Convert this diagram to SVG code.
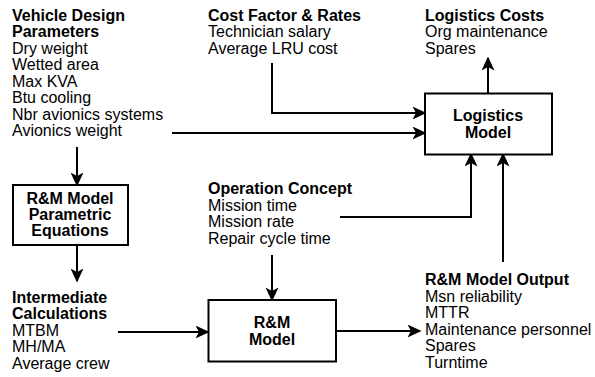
<svg xmlns="http://www.w3.org/2000/svg" width="595" height="377" viewBox="0 0 595 377">
<style>
text{font-family:"Liberation Sans",Arial,Helvetica,sans-serif;font-size:16px;fill:#000}
.b{font-weight:bold}
.c{text-anchor:middle}
.box{fill:#fff;stroke:#000;stroke-width:2}
.ln{fill:none;stroke:#000;stroke-width:2;marker-end:url(#ah)}
</style>
<defs>
<marker id="ah" viewBox="0 0 14 13" markerWidth="14" markerHeight="13" refX="12.5" refY="6.5" orient="auto" markerUnits="userSpaceOnUse">
<path d="M0,0 L14,6.5 L0,13 L3.5,6.5 z" fill="#000"/>
</marker>
</defs>
<rect width="595" height="377" fill="#fff"/>
<g id="connectors">
<path class="ln" d="M77,147 V185"/>
<path class="ln" d="M77,245 V281"/>
<path class="ln" d="M118,332 H208"/>
<path class="ln" d="M272,255 V300"/>
<path class="ln" d="M336,331 H420"/>
<path class="ln" d="M503,262 V154"/>
<path class="ln" d="M340,217 H471 V154"/>
<path class="ln" d="M272,63 V113 H425"/>
<path class="ln" d="M172,133 H425"/>
<path class="ln" d="M488,93 V58"/>
</g>
<g id="vehicle-design-parameters">
<text x="12" y="20.5" class="b">Vehicle Design</text>
<text x="12" y="37" class="b">Parameters</text>
<text x="12" y="53.5">Dry weight</text>
<text x="12" y="70">Wetted area</text>
<text x="12" y="86.5">Max KVA</text>
<text x="12" y="103">Btu cooling</text>
<text x="12" y="119.5">Nbr avionics systems</text>
<text x="12" y="136">Avionics weight</text>
</g>
<g id="cost-factor-rates">
<text x="208" y="20.5" class="b">Cost Factor &amp; Rates</text>
<text x="208" y="37">Technician salary</text>
<text x="208" y="53.5">Average LRU cost</text>
</g>
<g id="logistics-costs">
<text x="425" y="20.5" class="b">Logistics Costs</text>
<text x="425" y="37">Org maintenance</text>
<text x="425" y="53.5">Spares</text>
</g>
<g id="logistics-model">
<rect class="box" x="425" y="93.5" width="127" height="61"/>
<text x="488" y="121" class="b c">Logistics</text>
<text x="488" y="137.5" class="b c">Model</text>
</g>
<g id="rm-parametric-equations">
<rect class="box" x="13" y="185" width="115" height="60"/>
<text x="70" y="204" class="b c">R&amp;M Model</text>
<text x="70" y="220" class="b c">Parametric</text>
<text x="70" y="236" class="b c">Equations</text>
</g>
<g id="operation-concept">
<text x="208" y="194" class="b">Operation Concept</text>
<text x="208" y="210.5">Mission time</text>
<text x="208" y="227">Mission rate</text>
<text x="208" y="243.5">Repair cycle time</text>
</g>
<g id="intermediate-calculations">
<text x="12" y="302.5" class="b">Intermediate</text>
<text x="12" y="319" class="b">Calculations</text>
<text x="12" y="335.5">MTBM</text>
<text x="12" y="352">MH/MA</text>
<text x="12" y="368.5">Average crew</text>
</g>
<g id="rm-model">
<rect class="box" x="208.5" y="300" width="127.5" height="61.5"/>
<text x="272" y="328" class="b c">R&amp;M</text>
<text x="272" y="344.5" class="b c">Model</text>
</g>
<g id="rm-model-output">
<text x="425" y="285" class="b">R&amp;M Model Output</text>
<text x="425" y="301.5">Msn reliability</text>
<text x="425" y="318">MTTR</text>
<text x="425" y="334.5">Maintenance personnel</text>
<text x="425" y="351">Spares</text>
<text x="425" y="367.5">Turntime</text>
</g>
</svg>
